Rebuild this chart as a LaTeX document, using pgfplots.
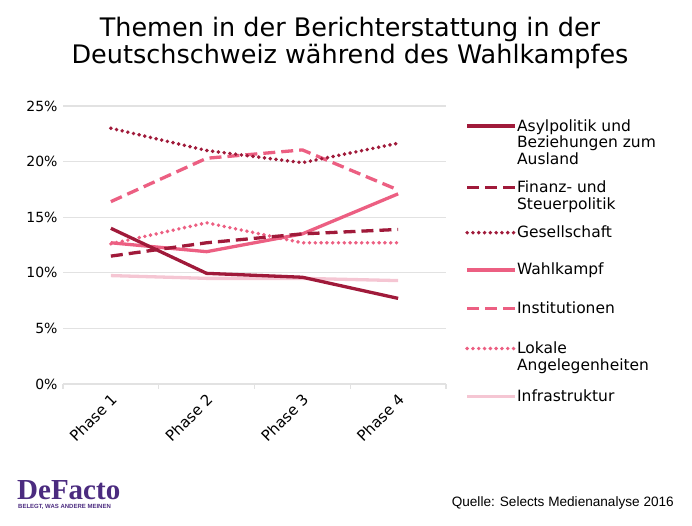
\documentclass[border=0pt]{standalone}
\usepackage{pgfplots}
\pgfplotsset{compat=1.18}
\usepackage{fontspec}
\setmainfont{DejaVu Sans}
\newfontfamily\logoserif{Liberation Serif}
\newfontfamily\lsans{Liberation Sans}
\definecolor{dkred}{HTML}{A01A3A}
\definecolor{pinkc}{HTML}{EC5F82}
\definecolor{ltpink}{HTML}{F5C6D3}
\definecolor{gridc}{HTML}{E2E2E2}
\definecolor{purp}{HTML}{4B2B7F}
\newcommand{\lgt}[1]{{\fontsize{15.5}{16.5}\selectfont\begin{tabular}[t]{@{}l@{}}#1\end{tabular}}}
\begin{document}
\begin{tikzpicture}[x=1pt,y=1pt]
\begin{axis}[
  at={(63pt,141pt)}, anchor=south west,
  scale only axis, width=383pt, height=278pt,
  xmin=-0.5, xmax=3.5, ymin=0, ymax=25,
  axis line style={draw=none},
  /pgf/number format/assume math mode=true,
  ytick={0,5,10,15,20,25},
  yticklabel={\pgfmathprintnumber{\tick}\%},
  yticklabel style={font=\fontsize{14}{16}\selectfont, xshift=-2pt},
  ymajorgrids, grid style={gridc, line width=1.3pt},
  ytick pos=left, xtick pos=lower,
  major tick length=0pt,
  xtick={0,1,2,3},
  xticklabels={Phase 1,Phase 2,Phase 3,Phase 4},
  xticklabel style={font=\fontsize{15}{17}\selectfont, xshift=-1pt, yshift=-4pt, rotate=45, anchor=north east},
  extra x ticks={-0.5,0.5,1.5,2.5,3.5},
  extra x tick labels={},
  extra x tick style={major tick length=5pt, tick align=outside, tick style={gridc, line width=1.3pt}, grid=none},
  every axis plot/.append style={line width=3.3pt, line join=round},
  legend style={at={(1.0496,0.953)}, anchor=north west, draw=none, fill=none, inner sep=0pt,
    row sep=11.5pt,
    nodes={inner sep=0pt, text depth=},
    /tikz/every even column/.append style={column sep=6pt}},
  legend cell align=left,
  legend style={cells={anchor=base west}},
  legend image code/.code={\draw[#1] (0pt,5pt) -- (48pt,5pt);},
  reverse legend,
]
\addplot[ltpink] coordinates {(0,9.75) (1,9.5) (2,9.5) (3,9.3)};
\addlegendentry{\lgt{Infrastruktur}}
\addplot[pinkc, dash pattern=on 0pt off 5.8pt, line cap=round, line width=3.9pt] coordinates {(0,12.6) (1,14.5) (2,12.7) (3,12.7)};
\addlegendentry{\lgt{Lokale\\Angelegenheiten\rule[-8pt]{0pt}{0pt}}}
\addplot[pinkc, dash pattern=on 12pt off 6pt] coordinates {(0,16.4) (1,20.3) (2,21.05) (3,17.45)};
\addlegendentry{\lgt{Institutionen\rule[-17pt]{0pt}{0pt}}}
\addplot[pinkc] coordinates {(0,12.7) (1,11.9) (2,13.5) (3,17.1)};
\addlegendentry{\lgt{Wahlkampf\rule[-15pt]{0pt}{0pt}}}
\addplot[dkred, dash pattern=on 0pt off 5.8pt, line cap=round, line width=3.9pt] coordinates {(0,23.0) (1,21.0) (2,19.9) (3,21.65)};
\addlegendentry{\lgt{Gesellschaft\rule[-14pt]{0pt}{0pt}}}
\addplot[dkred, dash pattern=on 12pt off 6pt] coordinates {(0,11.5) (1,12.7) (2,13.5) (3,13.9)};
\addlegendentry{\lgt{Finanz- und\\Steuerpolitik}}
\addplot[dkred] coordinates {(0,14.0) (1,9.95) (2,9.6) (3,7.7)};
\addlegendentry{\lgt{Asylpolitik und\\Beziehungen zum\\Ausland}}
\end{axis}
\node[anchor=base, font=\fontsize{25.5}{29}\selectfont] at (350pt,488.3pt) {Themen in der Berichterstattung in der};
\node[anchor=base, font=\fontsize{25.5}{29}\selectfont] at (350pt,461pt) {Deutschschweiz während des Wahlkampfes};
\node[anchor=base east, inner sep=0pt, font=\lsans\fontsize{13.6}{15}\selectfont] at (674pt,18.3pt) {Quelle: Selects Medienanalyse 2016};
\node[anchor=base west, inner sep=0pt, text=purp, font=\logoserif\bfseries\fontsize{29}{30}\selectfont] at (17pt,26pt) {DeFacto};
\node[anchor=base west, inner sep=0pt, text=purp, font=\lsans\bfseries\fontsize{6}{7}\selectfont] at (18pt,17pt) {BELEGT, WAS ANDERE MEINEN};
\pgfresetboundingbox
\path (0pt,0pt) rectangle (692pt,525pt);
\end{tikzpicture}
\end{document}
